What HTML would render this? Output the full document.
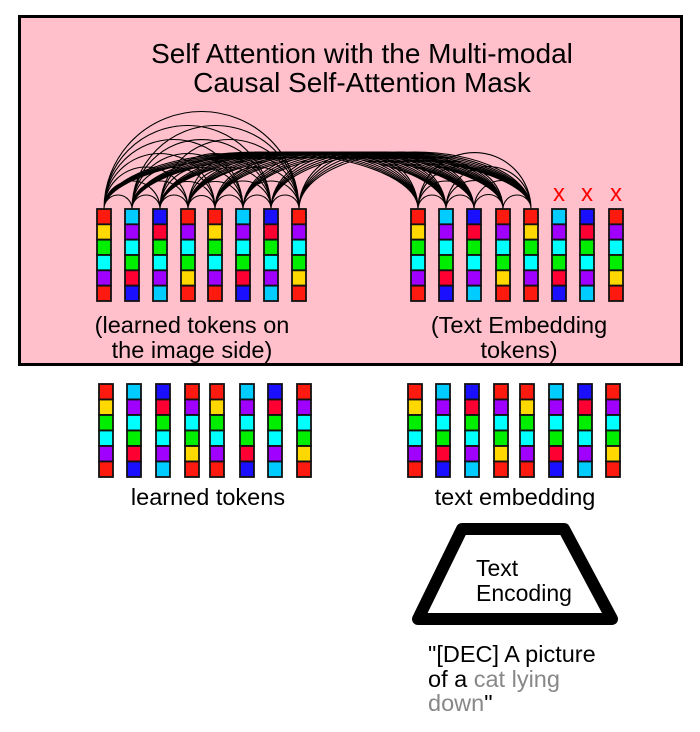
<!DOCTYPE html>
<html><head><meta charset="utf-8"><style>
html,body{margin:0;padding:0;background:#fff;}
svg{display:block;font-family:"Liberation Sans",Arial,sans-serif;}
</style></head><body>
<svg id="s" width="700" height="732" viewBox="0 0 700 732" xmlns="http://www.w3.org/2000/svg">
<rect x="19.5" y="16.5" width="662" height="348" fill="#ffc0cb" stroke="#000" stroke-width="3"/>
<text x="362" y="63" font-size="28" text-anchor="middle">Self Attention with the Multi-modal</text>
<text x="362" y="92" font-size="28" text-anchor="middle">Causal Self-Attention Mask</text>
<g id="arcs" fill="none" stroke="#000" stroke-width="1.1"></g>
<g id="tok" stroke="#111" stroke-width="1.8"></g>
<text x="559" y="201" font-size="24" fill="#f00" text-anchor="middle">x</text>
<text x="587" y="201" font-size="24" fill="#f00" text-anchor="middle">x</text>
<text x="616" y="201" font-size="24" fill="#f00" text-anchor="middle">x</text>
<text x="192" y="333" font-size="23.5" text-anchor="middle">(learned tokens on</text>
<text x="192" y="358" font-size="23.5" text-anchor="middle">the image side)</text>
<text x="519" y="333" font-size="23.5" text-anchor="middle">(Text Embedding</text>
<text x="519" y="358" font-size="23.5" text-anchor="middle">tokens)</text>
<text x="208" y="505" font-size="23.5" text-anchor="middle">learned tokens</text>
<text x="515" y="505" font-size="23.5" text-anchor="middle">text embedding</text>
<polygon points="462,529 564,529 612,619 418,619" fill="#fff" stroke="#000" stroke-width="12" stroke-linejoin="round"/>
<text x="476" y="576" font-size="23">Text</text>
<text x="476" y="601" font-size="23">Encoding</text>
<text x="428" y="662" font-size="23.5">"[DEC] A picture</text>
<text x="428" y="687" font-size="23.5">of a <tspan fill="#888">cat lying</tspan></text>
<text x="428" y="711" font-size="23.5"><tspan fill="#888">down</tspan>"</text>
</svg>
<script>
var R='#ff1a10',Y='#ffd800',G='#00ee00',C='#00ffff',P='#a000ff',B='#1a10ff',K='#00ccff',D='#ff0033';
var cols=[[R,Y,G,C,P,R],[K,P,C,G,D,B],[B,D,G,C,P,K],[R,P,C,G,Y,R]];
cols=cols.concat(cols);
var ns='http://www.w3.org/2000/svg',tok=document.getElementById('tok'),arcs=document.getElementById('arcs');
function group(xs,y0,y1){var h=(y1-y0)/6;xs.forEach(function(x,i){cols[i].forEach(function(c,j){var r=document.createElementNS(ns,'rect');r.setAttribute('x',x);r.setAttribute('y',y0+j*h);r.setAttribute('width',14);r.setAttribute('height',h);r.setAttribute('fill',c);tok.appendChild(r);});});}
var tl=[97,125,153,181,208,236,264,292],tr=[411,439,467,496,524,552,580,609];
group(tl,209,301);group(tr,209,301);
group([99,127,156,185,210,240,268,297],384,477);
group([408,436,465,494,520,549,578,606],384,477);
var cx=tl.concat(tr.slice(0,5)).map(function(x){return x+7;});
var d='';
for(var i=0;i<cx.length;i++)for(var j=i+1;j<cx.length;j++){var a=cx[i],b=cx[j],rx=(b-a)/2,same=(i<8)==(j<8),ry=same?rx:57;d+='M'+a+' 209A'+rx+' '+ry+' 0 0 1 '+b+' 209';}
var p=document.createElementNS(ns,'path');p.setAttribute('d',d);arcs.appendChild(p);
</script>
</body></html>
